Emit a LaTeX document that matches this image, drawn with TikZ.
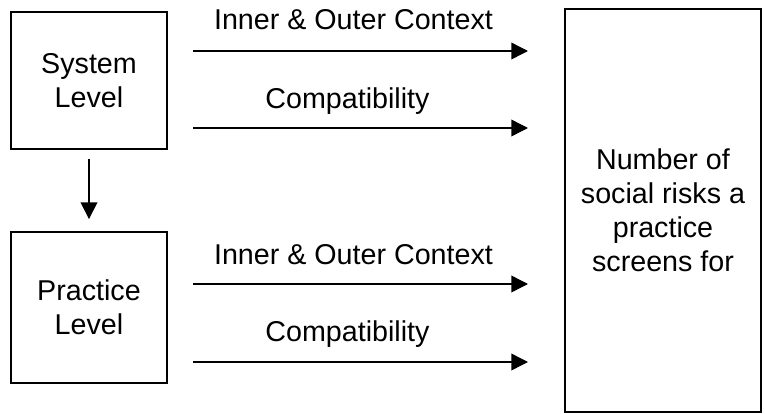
\documentclass[tikz,border=0pt]{standalone}
\usepackage{fontspec}
\setmainfont{Liberation Sans}
\usetikzlibrary{arrows.meta,positioning}

\begin{document}
\begin{tikzpicture}[x=0.75pt,y=-0.75pt,font=\fontsize{21.5}{25.5}\selectfont,
  lvlbox/.style={draw,line width=1.4pt,minimum width=117pt,align=center,inner sep=0pt},
  flow/.style={line width=1.1pt,-{Triangle[length=12.5pt,width=12.5pt]}},
  lbl/.style={anchor=base,inner sep=0pt}]
\useasboundingbox (0,0) rectangle (765,414);
% levels
\node[lvlbox,minimum height=102.75pt] (sys) at (89,80.5) {System\\Level};
\node[lvlbox,minimum height=113.25pt] (prac) at (89,307.5) {Practice\\Level};
% outcome
\node[draw,line width=1.4pt,minimum width=147pt,minimum height=302pt,
      align=center,inner sep=0pt] (outc) at (663,210.5)
      {Number of\\social risks a\\practice\\screens for};
\draw[flow,shorten <=6.75pt,shorten >=9pt] (sys) -- (prac);
% system level predictors
\coordinate (s1a) at (193,51);  \coordinate (s1b) at (528,51);
\coordinate (s2a) at (193,128); \coordinate (s2b) at (528,128);
\draw[flow] (s1a) -- (s1b);
\draw[flow] (s2a) -- (s2b);
\node[lbl] (s1t) at (353.5,30) {Inner \& Outer Context};
\node[lbl] (s2t) at (347.5,108) {Compatibility};
% practice level predictors
\coordinate (p1a) at (193,284); \coordinate (p1b) at (528,284);
\coordinate (p2a) at (193,362); \coordinate (p2b) at (528,362);
\draw[flow] (p1a) -- (p1b);
\draw[flow] (p2a) -- (p2b);
\node[lbl] (p1t) at (353.5,264) {Inner \& Outer Context};
\node[lbl] (p2t) at (347.5,341) {Compatibility};
\end{tikzpicture}
\end{document}
